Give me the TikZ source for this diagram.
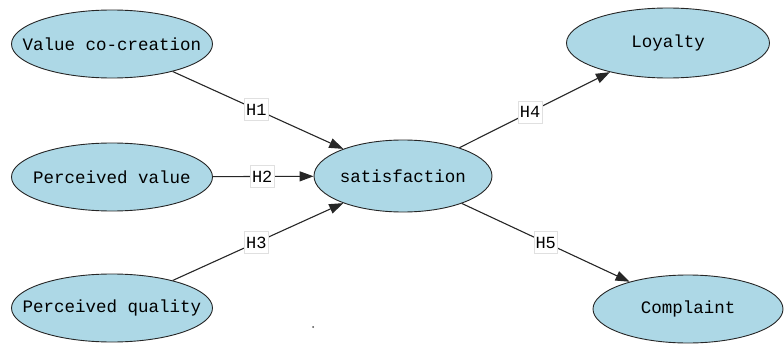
\documentclass[tikz,border=0pt]{standalone}
\usepackage{fontspec}
\setmonofont{Liberation Mono}
\usetikzlibrary{shapes.geometric,arrows.meta}
\definecolor{nodeblue}{RGB}{173,216,230}
\tikzset{
  concept/.style={ellipse, draw=black!85, line width=0.9pt, fill=nodeblue,
    minimum width=201pt, minimum height=68pt, inner xsep=-40pt, inner ysep=0pt,
    font=\ttfamily\fontsize{17.5}{20}\selectfont},
  link/.style={draw=black!85, line width=1.1pt, -{Triangle[length=14pt,width=10pt]}},
  hyp/.style={fill=white, draw=black!12, line width=0.4pt, inner sep=1.5pt,
    minimum height=22pt, font=\ttfamily\fontsize{17}{20}\selectfont}
}
\begin{document}
\begin{tikzpicture}[x=1pt,y=-1pt]
\useasboundingbox (0,0) rectangle (784,345);
\node[concept] (vc) at (112,44) {Value co-creation};
\node[concept] (pv) at (112,177) {Perceived value};
\node[concept] (pq) at (112,308) {Perceived quality};
\node[concept, minimum width=178pt, minimum height=72pt] (sat) at (403,176) {satisfaction};
\node[concept, minimum width=203pt, minimum height=70pt] (loy) at (668,43) {Loyalty};
\node[concept, minimum width=190pt] (com) at (688,309) {Complaint};
\draw[link] (vc) -- node[hyp, pos=0.49] {H1} (sat);
\draw[link] (pv) -- node[hyp, pos=0.49] {H2} (sat);
\draw[link] (pq) -- node[hyp, pos=0.49] {H3} (sat);
\draw[link] (sat) -- node[hyp, pos=0.47] {H4} (loy);
\draw[link] (sat) -- node[hyp, pos=0.5] {H5} (com);
\fill[black!70] (313,327) circle (1pt);
\end{tikzpicture}
\end{document}
